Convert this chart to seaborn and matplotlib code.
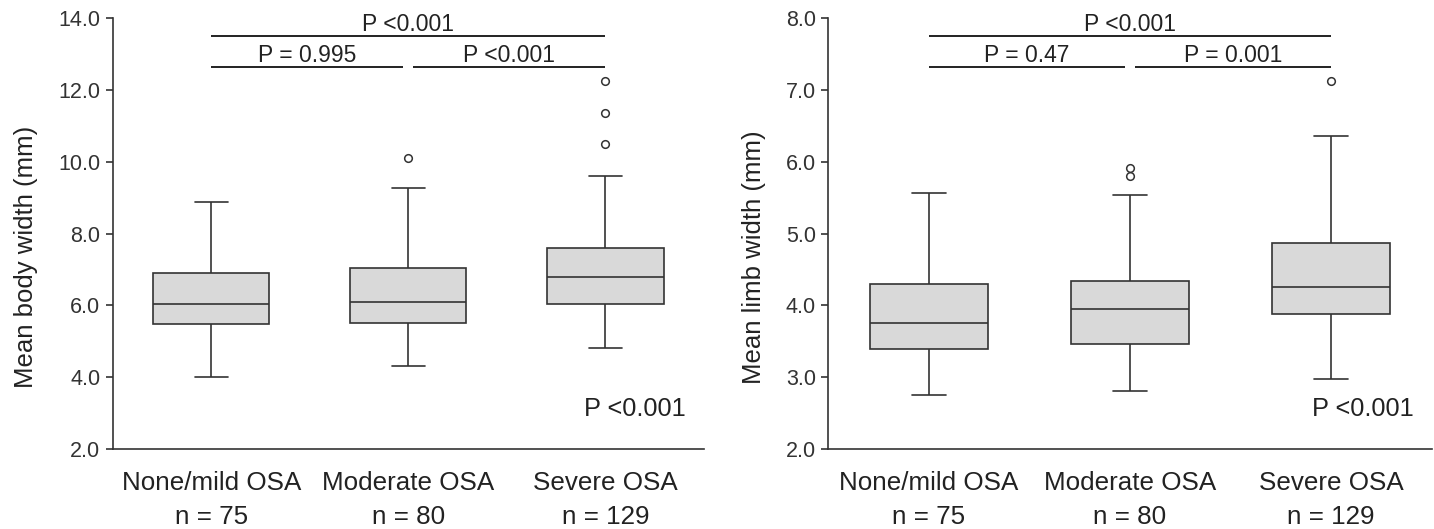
import numpy as np
import pandas as pd
import matplotlib
matplotlib.use("Agg")
import matplotlib.pyplot as plt
import seaborn as sns

# ---- data ----
groups = ["None/mild OSA", "Moderate OSA", "Severe OSA"]
group_n = [75, 80, 129]

body_lo = [4.01, 4.31, 4.82]
body_q1 = [5.48, 5.50, 6.03]
body_med = [6.04, 6.09, 6.80]
body_q3 = [6.91, 7.03, 7.59]
body_hi = [8.89, 9.26, 9.60]
body_out = [[], [10.11], [10.49, 11.35, 12.26]]

limb_lo = [2.75, 2.81, 2.98]
limb_q1 = [3.40, 3.46, 3.88]
limb_med = [3.76, 3.95, 4.26]
limb_q3 = [4.30, 4.34, 4.87]
limb_hi = [5.57, 5.54, 6.36]
limb_out = [[], [5.80, 5.92], [7.12]]

body_pairs = [(0, 1), (1, 2), (0, 2)]
body_pvals = ["P = 0.995", "P <0.001", "P <0.001"]
body_overall = "P <0.001"
limb_pairs = [(0, 1), (1, 2), (0, 2)]
limb_pvals = ["P = 0.47", "P = 0.001", "P <0.001"]
limb_overall = "P <0.001"


def group_sample(lo, q1, med, q3, hi, out):
    # 17 values whose quartiles equal the read summary values
    top = [hi] * (4 - len(out)) + sorted(out)
    return [lo] + [q1] * 4 + [med] * 4 + [q3] * 4 + top


def build_frame(lo, q1, med, q3, hi, out):
    rows = []
    for i, g in enumerate(groups):
        for v in group_sample(lo[i], q1[i], med[i], q3[i], hi[i], out[i]):
            rows.append((g, v))
    return pd.DataFrame(rows, columns=["group", "value"])


body_df = build_frame(body_lo, body_q1, body_med, body_q3, body_hi, body_out)
limb_df = build_frame(limb_lo, limb_q1, limb_med, limb_q3, limb_hi, limb_out)

# ---- style ----
sns.set_theme(style="ticks")
plt.rcParams["font.family"] = ["Liberation Sans", "DejaVu Sans"]
LINE = "#333333"
TEXT = "#222222"
plt.rcParams["text.color"] = TEXT
plt.rcParams["axes.labelcolor"] = TEXT
plt.rcParams["xtick.color"] = TEXT
plt.rcParams["ytick.color"] = LINE
plt.rcParams["ytick.labelcolor"] = "#333333"

fig = plt.figure(figsize=(14.34, 5.29), dpi=100)
ax1 = fig.add_axes([0.0786, 0.1512, 0.4123, 0.8142])
ax2 = fig.add_axes([0.5776, 0.1512, 0.4208, 0.8142])

panels = [
    (ax1, body_df, "Mean body width (mm)", (2, 14), 2.0, body_pairs, body_pvals, body_overall, -0.127),
    (ax2, limb_df, "Mean limb width (mm)", (2, 8), 1.0, limb_pairs, limb_pvals, limb_overall, -0.104),
]

for ax, df, ylabel, ylim, step, pairs, pvals, overall, labx in panels:
    sns.boxplot(
        data=df, x="group", y="value", order=groups, ax=ax,
        color="#d9d9d9", saturation=1, linecolor=LINE, linewidth=1.2,
        width=0.59, whis=1.6, capwidths=0.17,
        flierprops=dict(marker="o", markersize=5.5, markerfacecolor="white",
                        markeredgecolor=LINE, markeredgewidth=1.1),
    )
    ax.set_xlim(-0.5, 2.5)
    ax.set_ylim(*ylim)
    ax.set_yticks(np.arange(ylim[0], ylim[1] + step / 2, step))
    ax.yaxis.set_major_formatter(matplotlib.ticker.FormatStrFormatter("%.1f"))
    ax.set_xticks(range(len(groups)))
    ax.set_xticklabels([f"{g}\nn = {n}" for g, n in zip(groups, group_n)],
                       fontsize=18.7, linespacing=1.5)
    ax.tick_params(axis="x", length=0, pad=16)
    ax.tick_params(axis="y", length=5, width=1.2, labelsize=15.5, pad=4)
    ax.set_xlabel("")
    ax.set_ylabel(ylabel, fontsize=18.5)
    ax.yaxis.set_label_coords(labx, 0.446)
    sns.despine(ax=ax)
    for sp in ["left", "bottom"]:
        ax.spines[sp].set_color(LINE)
        ax.spines[sp].set_linewidth(1.2)

    span = ylim[1] - ylim[0]
    low_level = ylim[0] + span * 0.886
    high_level = ylim[0] + span * 0.958
    gap = 0.025
    for (a, b), p in zip(pairs, pvals):
        if b - a == 1:
            x0 = a + (gap if a == 1 else 0)
            x1 = b - (gap if b == 1 else 0)
            yl = low_level
        else:
            x0, x1 = a, b
            yl = high_level
        ax.plot([x0, x1], [yl, yl], color="#222222", lw=1.4, solid_capstyle="butt")
        ax.text((x0 + x1) / 2, yl, p, ha="center", va="bottom", fontsize=16.5)
    ax.text(0.97, 0.093, overall, transform=ax.transAxes, ha="right", va="center",
            fontsize=18.3)

fig.savefig("out.png", dpi=100)
